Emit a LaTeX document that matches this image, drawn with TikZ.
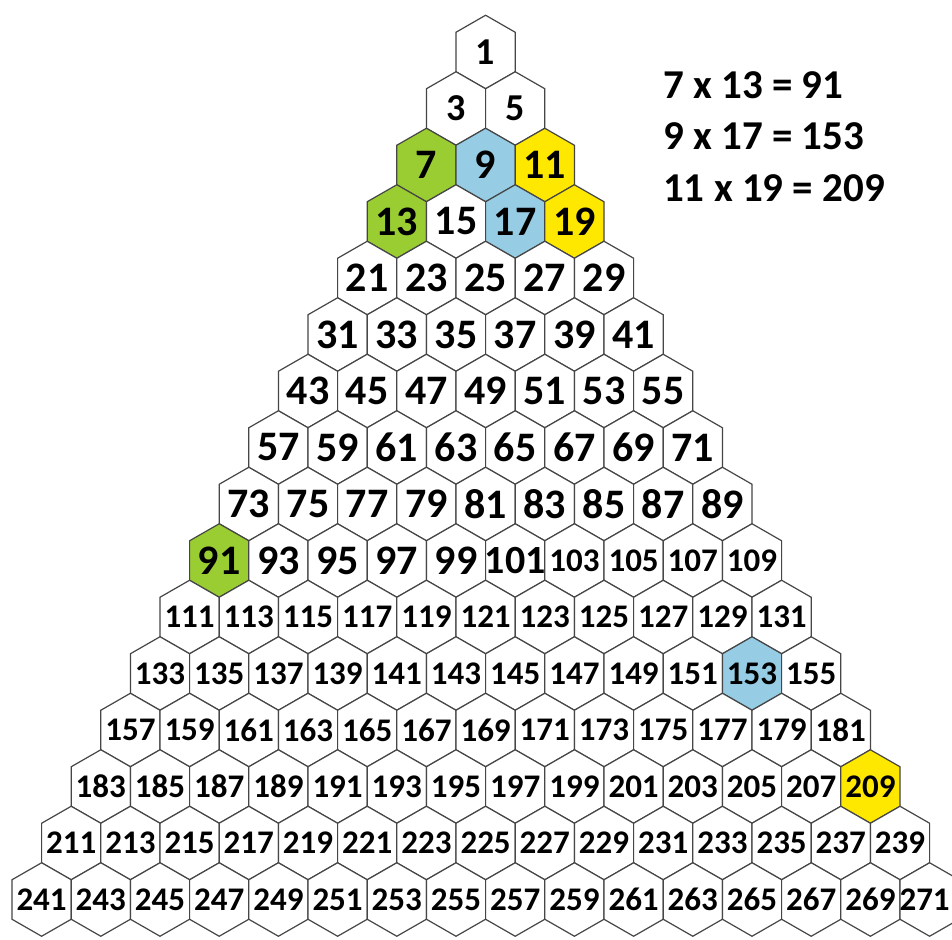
\documentclass[tikz,border=0pt]{standalone}
\usepackage{fontspec}
\setmainfont{Carlito}
\definecolor{hgreen}{RGB}{154,205,50}
\definecolor{hblue}{RGB}{150,205,228}
\definecolor{hyellow}{RGB}{255,232,0}
\definecolor{hline}{RGB}{70,70,70}
\begin{document}
\begin{tikzpicture}[x=1pt,y=-1pt,
  hexline/.style={draw=hline, line width=1.2pt, line join=miter},
  numtxt/.style={text=black, inner sep=0pt},
  eqtxt/.style={text=black, inner sep=0pt, anchor=west, font=\fontsize{41}{41}\selectfont\bfseries}]
\useasboundingbox (0,0) rectangle (952,939);
\fill[white] (0,0) rectangle (952,939);
\foreach \r in {1,...,16}{
  \foreach \k in {1,...,\r}{
    \pgfmathsetmacro\cx{485.6+(\k-(\r+1)/2)*59.2}
    \pgfmathsetmacro\cy{52+(\r-1)*56.5}
    \pgfmathtruncatemacro\n{\r*(\r-1)+2*\k-1}
    \def\fc{white}
    \ifnum\n=7 \def\fc{hgreen}\fi
    \ifnum\n=13 \def\fc{hgreen}\fi
    \ifnum\n=91 \def\fc{hgreen}\fi
    \ifnum\n=9 \def\fc{hblue}\fi
    \ifnum\n=17 \def\fc{hblue}\fi
    \ifnum\n=153 \def\fc{hblue}\fi
    \ifnum\n=11 \def\fc{hyellow}\fi
    \ifnum\n=19 \def\fc{hyellow}\fi
    \ifnum\n=209 \def\fc{hyellow}\fi
    \def\fs{33}
    \ifnum\n<100 \def\fs{42}\fi
    \ifnum\n<7 \def\fs{38}\fi
    \ifnum\n=101 \def\fs{40}\fi
    \def\dx{0}
    \ifnum\n=271 \def\dx{-5}\fi
    \draw[hexline, fill=\fc] ({\cx},{\cy-36.75}) -- ({\cx+29.6},{\cy-19.75}) -- ({\cx+29.6},{\cy+19.75}) -- ({\cx},{\cy+36.75}) -- ({\cx-29.6},{\cy+19.75}) -- ({\cx-29.6},{\cy-19.75}) -- cycle;
    \node[numtxt, font=\fontsize{\fs}{\fs}\selectfont\bfseries] (n\n) at ({\cx+\dx},{\cy}) {\n};
  }
}
\node[eqtxt] (eq1) at (663,85) {7 x 13 = 91};
\node[eqtxt] (eq2) at (663,136) {9 x 17 = 153};
\node[eqtxt] (eq3) at (663,188) {11 x 19 = 209};
\end{tikzpicture}
\end{document}
